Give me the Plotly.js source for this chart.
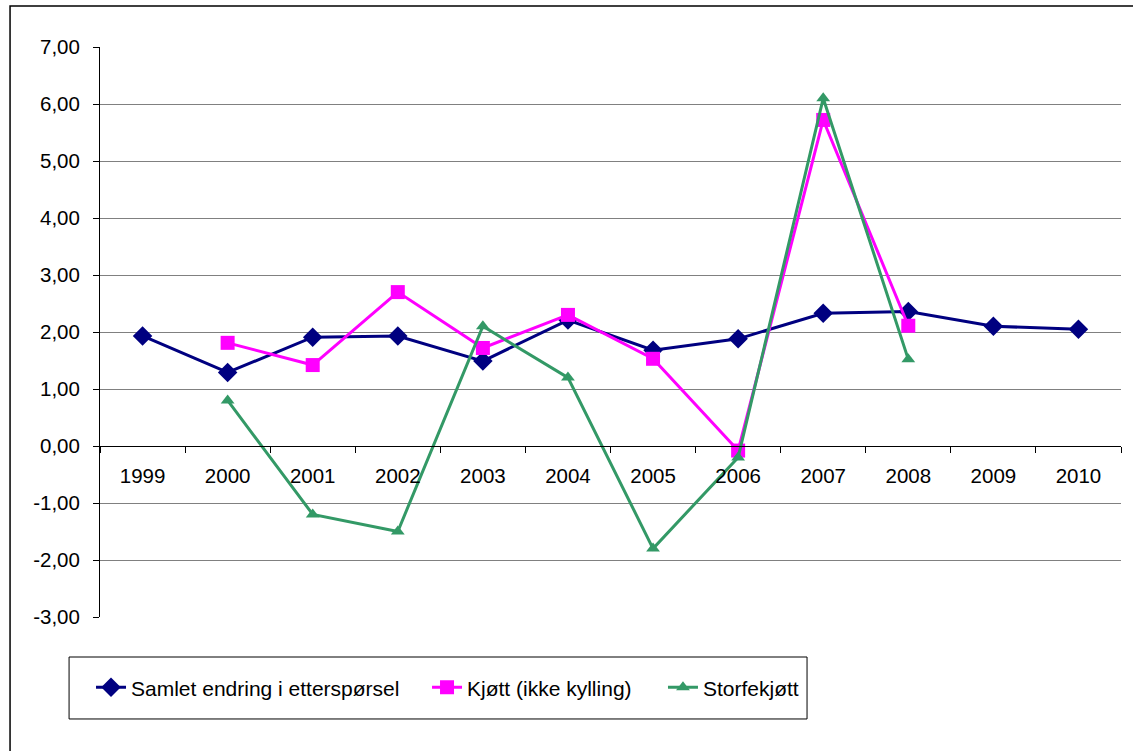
<!DOCTYPE html>
<html>
<head>
<meta charset="utf-8">
<script src="https://cdn.plot.ly/plotly-3.0.1.min.js"></script>
<style>html,body{margin:0;padding:0;background:#fff;}#chart{width:1133px;height:751px;}</style>
</head>
<body>
<div id="chart"></div>
<script>
var years = ["1999","2000","2001","2002","2003","2004","2005","2006","2007","2008","2009","2010"];
var samletYears = ["1999","2000","2001","2002","2003","2004","2005","2006","2007","2008","2009","2010"];
var samlet = [1.93, 1.29, 1.91, 1.93, 1.49, 2.21, 1.68, 1.88, 2.33, 2.36, 2.10, 2.05];
var kjottYears = ["2000","2001","2002","2003","2004","2005","2006","2007","2008"];
var kjott = [1.81, 1.42, 2.70, 1.72, 2.30, 1.53, -0.08, 5.72, 2.11];
var storfeYears = ["2000","2001","2002","2003","2004","2005","2006","2007","2008"];
var storfe = [0.80, -1.20, -1.50, 2.10, 1.20, -1.80, -0.20, 6.10, 1.52];
var seriesNames = ["Samlet endring i etterspørsel", "Kjøtt (ikke kylling)", "Storfekjøtt"];
var yTicks = [-3, -2, -1, 0, 1, 2, 3, 4, 5, 6, 7];
var yTickText = ["-3,00", "-2,00", "-1,00", "0,00", "1,00", "2,00", "3,00", "4,00", "5,00", "6,00", "7,00"];

var font = "Arial, 'Liberation Sans', sans-serif";
var traces = [
  {x: samletYears, y: samlet, name: seriesNames[0], type: "scatter", mode: "lines+markers", legend: "legend",
   line: {color: "#000080", width: 3}, marker: {symbol: "diamond", size: 15, color: "#000080"}},
  {x: kjottYears, y: kjott, name: seriesNames[1], type: "scatter", mode: "lines+markers", legend: "legend2",
   line: {color: "#FF00FF", width: 3}, marker: {symbol: "square", size: 14, color: "#FF00FF"}},
  {x: storfeYears, y: storfe, name: seriesNames[2], type: "scatter", mode: "lines+markers", legend: "legend3",
   line: {color: "#339966", width: 3}, marker: {symbol: "triangle-up", size: 12, color: "#339966"}}
];
function leg(x) {
  return {orientation: "h", x: x, y: -0.124, xanchor: "left", yanchor: "middle",
          bgcolor: "rgba(0,0,0,0)", borderwidth: 0, font: {family: font, size: 21, color: "#000"},
          itemwidth: 30};
}
var layout = {
  width: 1133, height: 751,
  margin: {l: 100, r: 12, t: 47, b: 134},
  paper_bgcolor: "#ffffff", plot_bgcolor: "#ffffff",
  font: {family: font, size: 20, color: "#000"},
  separators: ",.",
  showlegend: true,
  legend: leg(-0.0088),
  legend2: leg(0.3203),
  legend3: leg(0.5514),
  xaxis: {type: "category", categoryorder: "array", categoryarray: years,
          range: [-0.5, 11.5], anchor: "free", position: 0.3,
          showline: true, linecolor: "#000", linewidth: 1,
          ticks: "outside", ticklen: 6, tickcolor: "#000", tickson: "boundaries",
          showgrid: false, zeroline: false, ticklabelstandoff: 11,
          tickfont: {family: font, size: 20.5, color: "#000"}},
  yaxis: {range: [-3, 7], tickvals: yTicks, ticktext: yTickText,
          showline: true, linecolor: "#000", linewidth: 1,
          ticks: "outside", ticklen: 6, tickcolor: "#000",
          showgrid: true, gridcolor: "#808080", gridwidth: 1, zeroline: false,
          ticklabelstandoff: 9,
          tickfont: {family: font, size: 20.5, color: "#000"}},
  shapes: [
    {type: "rect", xref: "paper", yref: "paper", x0: -0.0881, x1: 1.03, y0: -0.26, y1: 1.0719,
     line: {color: "#000", width: 1.5}, fillcolor: "rgba(0,0,0,0)"},
    {type: "rect", xref: "paper", yref: "paper", x0: -0.0303, x1: 0.6925, y0: -0.1789, y1: -0.0702,
     line: {color: "#000", width: 1}, fillcolor: "rgba(0,0,0,0)"}
  ]
};
Plotly.newPlot("chart", traces, layout, {displayModeBar: false, staticPlot: true});
</script>
</body>
</html>
